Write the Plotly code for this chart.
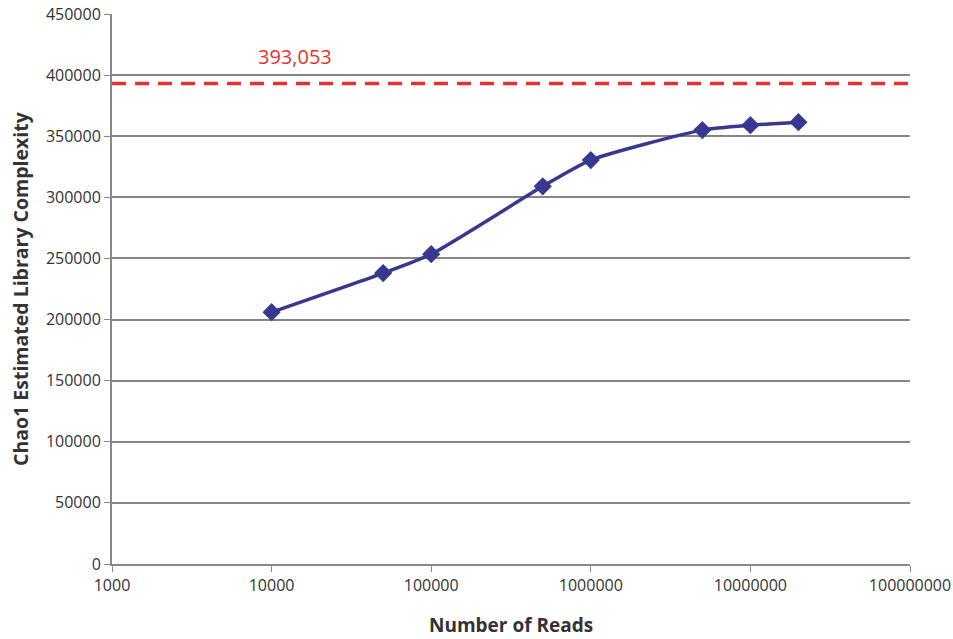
import plotly.graph_objects as go

reads = [10000, 50000, 100000, 500000, 1000000, 5000000, 10000000, 20000000]
chao1 = [206000, 238000, 253500, 309000, 330500, 355000, 359000, 361500]
asymptote = 393053
asymptote_label = "393,053"
x_title = "Number of Reads"
y_title = "Chao1 Estimated Library Complexity"
x_range = [1000, 100000000]
x_ticks = [1000, 10000, 100000, 1000000, 10000000, 100000000]
y_ticks = [0, 50000, 100000, 150000, 200000, 250000, 300000, 350000, 400000, 450000]

fig = go.Figure()
fig.add_trace(go.Scatter(
    x=x_range, y=[asymptote, asymptote], mode="lines",
    line=dict(color="#e8312f", width=3.5, dash="14px,9px"), showlegend=False))
fig.add_trace(go.Scatter(
    x=reads, y=chao1, mode="lines+markers",
    line=dict(color="#383890", width=3.5, shape="spline", smoothing=0.6),
    marker=dict(symbol="diamond", size=14, color="#383890"),
    showlegend=False))
fig.add_annotation(x=4.147, y=asymptote, xref="x", yref="y", text=asymptote_label,
                   showarrow=False, yshift=27,
                   font=dict(color="#e8312f", size=20, family="Open Sans"))
fig.add_annotation(x=0.5, y=0, xref="paper", yref="paper", text="<b>" + x_title + "</b>",
                   showarrow=False, yanchor="middle", yshift=-61,
                   font=dict(size=19, color="#333", family="Open Sans"))
fig.add_annotation(x=0, y=0.5, xref="paper", yref="paper", text="<b>" + y_title + "</b>",
                   showarrow=False, textangle=-90, xanchor="center", xshift=-92,
                   font=dict(size=19.5, color="#333", family="Open Sans"))

fig.update_xaxes(type="log", range=[3, 8], tickvals=x_ticks,
                 ticktext=[str(v) for v in x_ticks], automargin=False,
                 ticklabeloverflow="allow",
                 showgrid=False, showline=True, linecolor="#888", linewidth=2,
                 ticks="outside", ticklen=6, tickcolor="#888",
                 tickfont=dict(size=16, color="#333", family="Open Sans"))
fig.update_yaxes(range=[0, 450000.0001], tickvals=y_ticks,
                 ticktext=[str(v) for v in y_ticks], automargin=False,
                 ticklabeloverflow="allow",
                 showgrid=True, gridcolor="#858585", gridwidth=1.5,
                 showline=True, linecolor="#888", linewidth=2,
                 ticks="outside", ticklen=6, tickcolor="#888", zeroline=False,
                 tickfont=dict(size=16, color="#333", family="Open Sans"))
fig.update_layout(width=953, height=639, plot_bgcolor="white", paper_bgcolor="white",
                  margin=dict(l=112, r=43, t=14, b=75))
fig.write_html("out.html", config={"displayModeBar": False},
               post_script="document.body.style.margin='0';document.body.style.overflow='hidden';")
